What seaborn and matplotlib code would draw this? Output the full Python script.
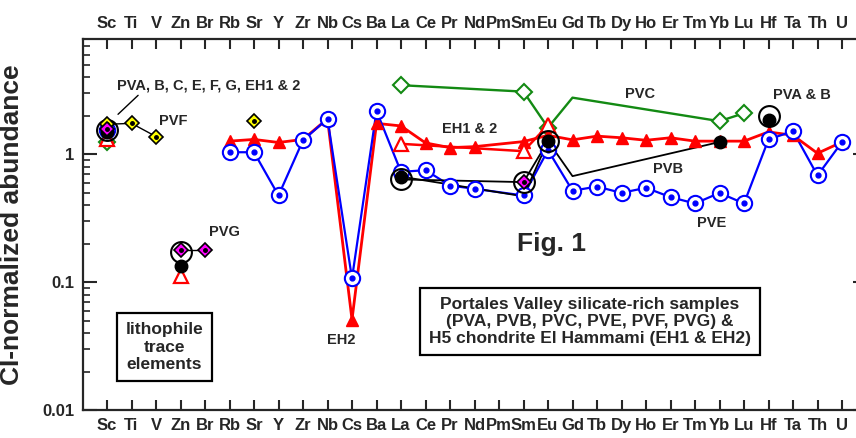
import pandas as pd
import matplotlib
matplotlib.use("Agg")
import matplotlib.pyplot as plt
from matplotlib.ticker import LogLocator, NullFormatter, FixedLocator, FixedFormatter
import seaborn as sns

ELEMENTS = ["Sc", "Ti", "V", "Zn", "Br", "Rb", "Sr", "Y", "Zr", "Nb", "Cs", "Ba",
            "La", "Ce", "Pr", "Nd", "Pm", "Sm", "Eu", "Gd", "Tb", "Dy", "Ho", "Er",
            "Tm", "Yb", "Lu", "Hf", "Ta", "Th", "U"]

# None in an element list = break in the connecting line
PVA_EL = ["Sc", None, "Zn", None, "La", "Sm", "Eu", None, "Yb", None, "Hf"]
PVA_VAL = [1.50, None, 0.133, None, 0.67, 0.47, 1.27, None, 1.25, None, 1.86]
PVA_NO_MARKER = ["Sm"]

PVB_EL = ["Sc", None, "Zn", None, "La", "Sm", "Eu", "Gd", "Yb", None, "Hf"]
PVB_VAL = [1.55, None, 0.171, None, 0.637, 0.607, 1.27, 0.676, 1.25, None, 2.0]
PVB_NO_MARKER = ["Gd", "Yb"]

PVC_EL = ["Sc", None, "La", "Sm", "Eu", "Gd", "Yb", "Lu"]
PVC_VAL = [1.24, None, 3.48, 3.10, 1.62, 2.78, 1.82, 2.10]
PVC_NO_MARKER = ["Gd"]

PVE_EL = ["Sc", None, "Rb", "Sr", "Y", "Zr", "Nb", "Cs", "Ba", "La", "Ce", "Pr", "Nd",
          "Sm", "Eu", "Gd", "Tb", "Dy", "Ho", "Er", "Tm", "Yb", "Lu", "Hf", "Ta", "Th", "U"]
PVE_VAL = [1.55, None, 1.04, 1.04, 0.477, 1.29, 1.90, 0.107, 2.19, 0.73, 0.753, 0.571, 0.538,
           0.477, 1.08, 0.52, 0.56, 0.50, 0.548, 0.463, 0.413, 0.50, 0.413, 1.31, 1.52, 0.684, 1.25]

PVF_EL = ["Sc", "Ti", "V", None, "Sr"]
PVF_VAL = [1.72, 1.75, 1.38, None, 1.82]

PVG_EL = ["Sc", None, "Zn", "Br", None, "Sm"]
PVG_VAL = [1.59, None, 0.18, 0.18, None, 0.607]

EH1_EL = ["Sc", None, "Rb", "Sr", "Y", "Zr", "Nb", "Cs", "Ba", "La", "Ce", "Pr", "Nd",
          "Sm", "Eu", "Gd", "Tb", "Dy", "Ho", "Er", "Tm", "Yb", "Lu", "Hf", "Ta", "Th", "U"]
EH1_VAL = [1.38, None, 1.27, 1.31, 1.24, 1.31, 1.90, 0.051, 1.75, 1.67, 1.23, 1.13, 1.15,
           1.26, 1.41, 1.30, 1.39, 1.35, 1.29, 1.35, 1.27, 1.27, 1.27, 1.50, 1.41, 1.02, 1.25]

EH2_EL = ["Sc", None, "Zn", None, "La", "Sm", "Eu"]
EH2_VAL = [1.33, None, 0.111, None, 1.21, 1.06, 1.69]

Y_TICKS = [0.01, 0.1, 1]
Y_TICK_LABELS = ["0.01", "0.1", "1"]

BLUE = "#0000ff"
RED = "#ff0000"
GREEN = "#138a13"


def to_frame(elements, values):
    rows = []
    seg = 0
    for el, v in zip(elements, values):
        if el is None:
            seg += 1
            continue
        rows.append({"pos": ELEMENTS.index(el), "element": el, "value": v, "seg": seg})
    return pd.DataFrame(rows)


def draw_line(ax, df, color, lw, z=2):
    sns.lineplot(data=df, x="pos", y="value", units="seg", estimator=None, sort=False,
                 color=color, lw=lw, ax=ax, legend=False, zorder=z)


def draw_markers(ax, df, no_marker=(), **style):
    sub = df[~df["element"].isin(no_marker)]
    ax.plot(sub["pos"], sub["value"], ls="none", **style)


sns.set_style("ticks")
plt.rcParams["font.family"] = ["Liberation Sans", "DejaVu Sans"]
plt.rcParams["font.weight"] = "bold"

fig = plt.figure(figsize=(8.56, 4.38), dpi=100)
ax = fig.add_axes([82.5 / 856, 1 - 410 / 438, 784 / 856, 371 / 438])
ax.set_yscale("log")

pva = to_frame(PVA_EL, PVA_VAL)
pvb = to_frame(PVB_EL, PVB_VAL)
pvc = to_frame(PVC_EL, PVC_VAL)
pve = to_frame(PVE_EL, PVE_VAL)
pvf = to_frame(PVF_EL, PVF_VAL)
pvg = to_frame(PVG_EL, PVG_VAL)
eh1 = to_frame(EH1_EL, EH1_VAL)
eh2 = to_frame(EH2_EL, EH2_VAL)

# lines
draw_line(ax, pvc, GREEN, 1.7)
draw_line(ax, eh1, RED, 2.0)
draw_line(ax, eh2, RED, 1.8)
draw_line(ax, pve, BLUE, 1.6)
draw_line(ax, pva, "black", 1.3)
draw_line(ax, pvb, "black", 1.3)
draw_line(ax, pvf, "black", 1.0)
draw_line(ax, pvg, "black", 1.0)

# markers
draw_markers(ax, pvc, PVC_NO_MARKER, marker="D", ms=8, mfc="white", mec=GREEN, mew=1.5, zorder=3)
draw_markers(ax, eh1, marker="^", ms=9, mfc=RED, mec=RED, mew=1, zorder=4)
draw_markers(ax, eh2, marker="^", ms=10, mfc="white", mec=RED, mew=1.6, zorder=4)
draw_markers(ax, pve, marker="o", ms=11, mfc="white", mec=BLUE, mew=1.5, zorder=5)
draw_markers(ax, pve, marker="o", ms=3.5, mfc=BLUE, mec=BLUE, zorder=5)
draw_markers(ax, pva, PVA_NO_MARKER, marker="o", ms=9, mfc="black", mec="black", zorder=6)
draw_markers(ax, pvb, PVB_NO_MARKER, marker="o", ms=15, mfc="none", mec="black", mew=1.5, zorder=6)
draw_markers(ax, pvf, marker="D", ms=7, mfc="#ffff00", mec="black", mew=1.2, zorder=7)
draw_markers(ax, pvf, marker="o", ms=2.5, mfc="black", mec="black", zorder=7)
draw_markers(ax, pvg, marker="D", ms=7, mfc="#ff00ff", mec="black", mew=1.2, zorder=7)
draw_markers(ax, pvg, marker="o", ms=2.5, mfc="black", mec="black", zorder=7)

# axes
ax.set_xlim(-1, 31)
ax.set_ylim(0.01, 8)
ax.set_xticks(range(len(ELEMENTS)))
ax.set_xticklabels(ELEMENTS, fontsize=12, fontweight="bold")
ax.set_xlabel("")
ax.tick_params(axis="x", which="both", direction="in", top=True, bottom=True,
               labeltop=True, labelbottom=True, length=7, width=1.5, pad=6)
ax.yaxis.set_major_locator(FixedLocator(Y_TICKS))
ax.yaxis.set_major_formatter(FixedFormatter(Y_TICK_LABELS))
ax.yaxis.set_minor_locator(LogLocator(base=10, subs=range(2, 10)))
ax.yaxis.set_minor_formatter(NullFormatter())
ax.tick_params(axis="y", which="major", direction="in", left=True, right=True,
               length=10, width=1.5, labelsize=12, pad=6)
ax.tick_params(axis="y", which="minor", direction="in", left=True, right=True,
               length=5, width=1.2)
for lab in ax.get_yticklabels():
    lab.set_fontweight("bold")
ax.set_ylabel("CI-normalized abundance", fontsize=19, fontweight="bold")
ax.yaxis.set_label_coords(-0.074, 0.5)
for sp in ax.spines.values():
    sp.set_linewidth(1.6)
    sp.set_visible(True)

# annotations
lab_kw = dict(fontsize=10.5, fontweight="bold", ha="center", va="center")
ax.text(4.16, 3.48, "PVA, B, C, E, F, G, EH1 & 2", **lab_kw)
ax.plot([0.45, 1.27], [2.06, 2.9], color="black", lw=1)
ax.text(2.69, 1.81, "PVF", **lab_kw)
ax.text(4.78, 0.245, "PVG", **lab_kw)
ax.text(14.82, 1.57, "EH1 & 2", **lab_kw)
ax.text(21.76, 2.96, "PVC", **lab_kw)
ax.text(28.37, 2.90, "PVA & B", **lab_kw)
ax.text(22.9, 0.763, "PVB", **lab_kw)
ax.text(24.69, 0.293, "PVE", **lab_kw)
ax.text(9.55, 0.0354, "EH2", **lab_kw)
ax.text(18.14, 0.1745, "Fig. 1", fontsize=19, fontweight="bold", ha="center", va="baseline")

box_kw = dict(fontsize=12.5, fontweight="bold", ha="center", va="center",
              multialignment="center", linespacing=1.2,
              bbox=dict(boxstyle="square,pad=0.5", fc="white", ec="black", lw=1.6))
ax.text(2.35, 0.0311, "lithophile\ntrace\nelements", **box_kw)
ax.text(19.71, 0.0492, "Portales Valley silicate-rich samples\n(PVA, PVB, PVC, PVE, PVF, PVG) &\n"
        "H5 chondrite El Hammami (EH1 & EH2)", **box_kw)

fig.savefig("out.png", dpi=100)
